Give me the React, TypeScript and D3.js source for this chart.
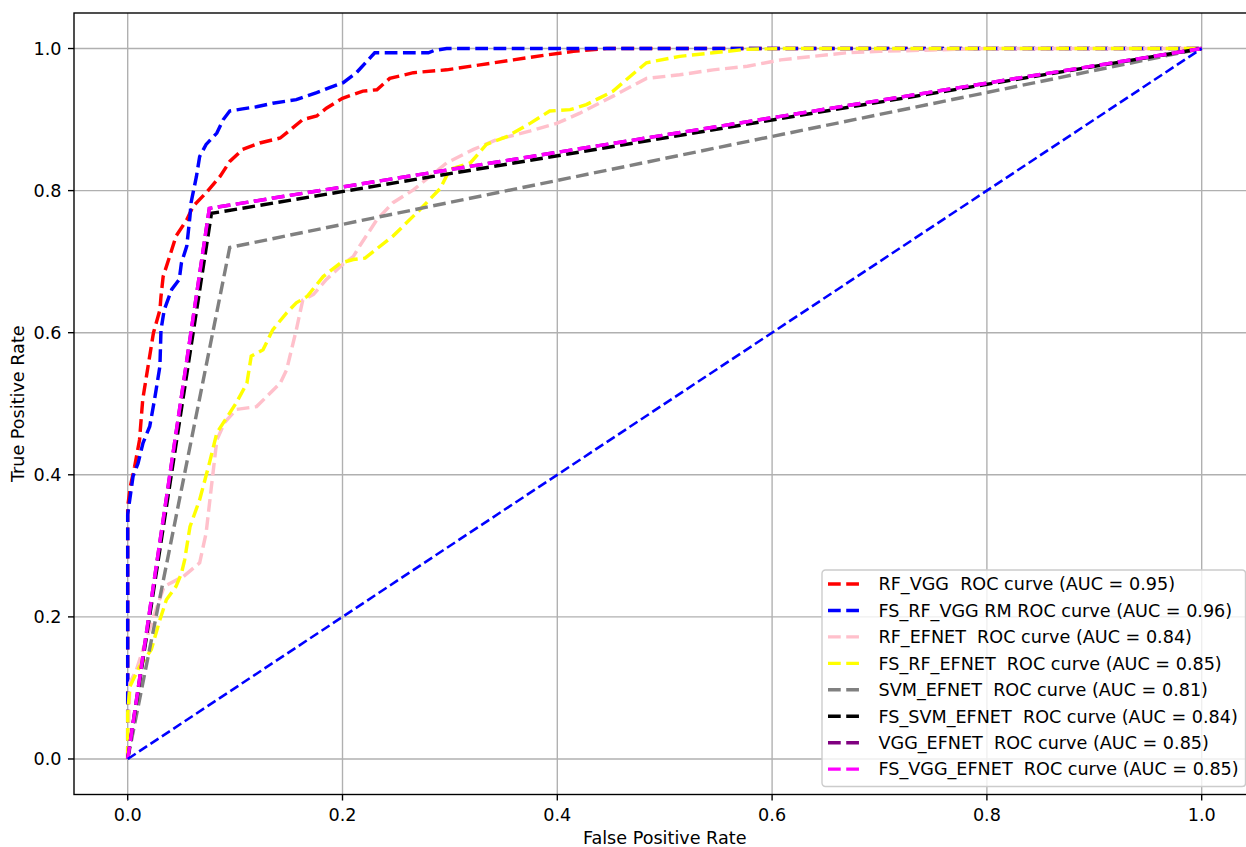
import { useEffect, useRef } from 'react';
import * as d3 from 'd3';

// ROC points
const rfVggFpr = [0, 0, 0.0025, 0.0065, 0.011, 0.014, 0.019, 0.024, 0.03, 0.031, 0.033, 0.039, 0.045, 0.055, 0.061, 0.073, 0.086, 0.095, 0.107, 0.123, 0.142, 0.163, 0.176, 0.185, 0.2, 0.219, 0.232, 0.244, 0.266, 0.297, 0.328, 0.359, 0.39, 0.415, 0.446, 1];
const rfVggTpr = [0, 0.355, 0.384, 0.412, 0.449, 0.506, 0.553, 0.6, 0.632, 0.651, 0.679, 0.707, 0.736, 0.759, 0.778, 0.797, 0.82, 0.841, 0.858, 0.867, 0.874, 0.9, 0.905, 0.916, 0.93, 0.94, 0.942, 0.958, 0.966, 0.97, 0.977, 0.984, 0.991, 0.996, 1, 1];

const fsRfVggFpr = [0, 0, 0.0019, 0.005, 0.0096, 0.0143, 0.0205, 0.025, 0.03, 0.031, 0.034, 0.041, 0.048, 0.05, 0.055, 0.058, 0.059, 0.064, 0.067, 0.073, 0.083, 0.089, 0.095, 0.107, 0.12, 0.135, 0.157, 0.176, 0.188, 0.2007, 0.213, 0.23, 0.28, 0.285, 0.297, 1];
const fsRfVggTpr = [0, 0.344, 0.365, 0.398, 0.416, 0.445, 0.468, 0.506, 0.553, 0.604, 0.632, 0.661, 0.675, 0.698, 0.722, 0.764, 0.783, 0.82, 0.848, 0.865, 0.881, 0.9, 0.912, 0.915, 0.918, 0.923, 0.928, 0.938, 0.945, 0.952, 0.966, 0.994, 0.994, 0.997, 1, 1];

const rfEfnetFpr = [0, 0.002, 0.008, 0.024, 0.034, 0.052, 0.067, 0.073, 0.078, 0.083, 0.09, 0.101, 0.12, 0.142, 0.148, 0.157, 0.163, 0.173, 0.185, 0.2, 0.21, 0.216, 0.232, 0.247, 0.266, 0.297, 0.322, 0.344, 0.375, 0.4, 0.421, 0.452, 0.483, 0.514, 0.545, 0.577, 0.608, 0.638, 0.67, 0.7, 0.75, 0.8, 1];
const rfEfnetTpr = [0, 0.107, 0.125, 0.2, 0.243, 0.257, 0.276, 0.318, 0.384, 0.449, 0.473, 0.492, 0.496, 0.529, 0.548, 0.604, 0.646, 0.654, 0.675, 0.696, 0.707, 0.722, 0.759, 0.783, 0.801, 0.839, 0.858, 0.872, 0.884, 0.895, 0.909, 0.933, 0.958, 0.963, 0.97, 0.975, 0.984, 0.989, 0.994, 0.996, 0.998, 1, 1];

const fsRfEfnetFpr = [0, 0, 0.002, 0.011, 0.022, 0.03, 0.036, 0.045, 0.05, 0.053, 0.058, 0.067, 0.076, 0.083, 0.089, 0.101, 0.111, 0.115, 0.126, 0.135, 0.148, 0.157, 0.167, 0.182, 0.198, 0.21, 0.221, 0.247, 0.272, 0.291, 0.3, 0.319, 0.334, 0.353, 0.375, 0.393, 0.412, 0.427, 0.452, 0.468, 0.483, 0.514, 0.545, 0.577, 0.608, 1];
const fsRfEfnetTpr = [0, 0.065, 0.102, 0.13, 0.154, 0.196, 0.224, 0.243, 0.261, 0.28, 0.327, 0.365, 0.416, 0.459, 0.473, 0.501, 0.529, 0.567, 0.576, 0.604, 0.628, 0.642, 0.651, 0.679, 0.698, 0.703, 0.705, 0.736, 0.773, 0.803, 0.83, 0.839, 0.865, 0.876, 0.895, 0.912, 0.914, 0.921, 0.94, 0.961, 0.98, 0.989, 0.994, 0.999, 1, 1];

const svmEfnetFpr = [0, 0.095, 1];
const svmEfnetTpr = [0, 0.72, 1];

const fsSvmEfnetFpr = [0, 0.078, 1];
const fsSvmEfnetTpr = [0, 0.768, 1];

const vggEfnetFpr = [0, 0.076, 1];
const vggEfnetTpr = [0, 0.775, 1];

const fsVggEfnetFpr = [0, 0.076, 1];
const fsVggEfnetTpr = [0, 0.775, 1];

const chanceFpr = [0, 1];
const chanceTpr = [0, 1];

const labels = [
  'RF_VGG  ROC curve (AUC = 0.95)',
  'FS_RF_VGG RM ROC curve (AUC = 0.96)',
  'RF_EFNET  ROC curve (AUC = 0.84)',
  'FS_RF_EFNET  ROC curve (AUC = 0.85)',
  'SVM_EFNET  ROC curve (AUC = 0.81)',
  'FS_SVM_EFNET  ROC curve (AUC = 0.84)',
  'VGG_EFNET  ROC curve (AUC = 0.85)',
  'FS_VGG_EFNET  ROC curve (AUC = 0.85)',
];
const colors = ['red', 'blue', 'pink', 'yellow', 'gray', 'black', 'purple', 'magenta'];
const xTicks = [0, 0.2, 0.4, 0.6, 0.8, 1.0];
const yTicks = [0, 0.2, 0.4, 0.6, 0.8, 1.0];

export default function App() {
  const ref = useRef<SVGSVGElement | null>(null);

  useEffect(() => {
    document.body.style.margin = '0';
    const el = ref.current;
    if (!el) return;
    const svg = d3.select(el);
    svg.selectAll('*').remove();

    const font = 'DejaVu Sans, sans-serif';
    const fs = 17.6;
    const pt = 1.72;

    const x = d3.scaleLinear().domain([-0.05, 1.05]).range([74, 1255.4]);
    const y = d3.scaleLinear().domain([-0.05, 1.05]).range([794.5, 13]);

    const series = [
      [rfVggFpr, rfVggTpr],
      [fsRfVggFpr, fsRfVggTpr],
      [rfEfnetFpr, rfEfnetTpr],
      [fsRfEfnetFpr, fsRfEfnetTpr],
      [svmEfnetFpr, svmEfnetTpr],
      [fsSvmEfnetFpr, fsSvmEfnetTpr],
      [vggEfnetFpr, vggEfnetTpr],
      [fsVggEfnetFpr, fsVggEfnetTpr],
    ];

    const g = svg.append('g');

    // grid
    g.selectAll('.gx').data(xTicks).enter().append('line')
      .attr('x1', d => x(d)).attr('x2', d => x(d))
      .attr('y1', y(-0.05)).attr('y2', y(1.05))
      .attr('stroke', '#b0b0b0').attr('stroke-width', 0.8 * pt);
    g.selectAll('.gy').data(yTicks).enter().append('line')
      .attr('x1', x(-0.05)).attr('x2', x(1.05))
      .attr('y1', d => y(d)).attr('y2', d => y(d))
      .attr('stroke', '#b0b0b0').attr('stroke-width', 0.8 * pt);

    const line = d3.line<[number, number]>().x(d => x(d[0])).y(d => y(d[1]));
    const dash = `${3.7 * 2 * pt} ${1.6 * 2 * pt}`;

    series.forEach(([fpr, tpr], i) => {
      const pts = fpr.map((v, j) => [v, tpr[j]] as [number, number]);
      g.append('path')
        .attr('d', line(pts))
        .attr('fill', 'none')
        .attr('stroke', colors[i])
        .attr('stroke-width', 2 * pt)
        .attr('stroke-dasharray', dash);
    });

    // chance line
    g.append('path')
      .attr('d', line(chanceFpr.map((v, j) => [v, chanceTpr[j]] as [number, number])))
      .attr('fill', 'none')
      .attr('stroke', 'blue')
      .attr('stroke-width', 1.5 * pt)
      .attr('stroke-dasharray', `${3.7 * 1.5 * pt} ${1.6 * 1.5 * pt}`);

    // spines
    g.append('rect')
      .attr('x', x(-0.05)).attr('y', y(1.05))
      .attr('width', x(1.05) - x(-0.05)).attr('height', y(-0.05) - y(1.05))
      .attr('fill', 'none').attr('stroke', 'black').attr('stroke-width', 0.8 * pt);

    // ticks
    xTicks.forEach(t => {
      g.append('line').attr('x1', x(t)).attr('x2', x(t))
        .attr('y1', y(-0.05)).attr('y2', y(-0.05) + 3.5 * pt)
        .attr('stroke', 'black').attr('stroke-width', 0.8 * pt);
      g.append('text').attr('x', x(t)).attr('y', 820.5)
        .attr('text-anchor', 'middle').attr('font-family', font).attr('font-size', fs)
        .text(d3.format('.1f')(t));
    });
    yTicks.forEach(t => {
      g.append('line').attr('x1', x(-0.05) - 3.5 * pt).attr('x2', x(-0.05))
        .attr('y1', y(t)).attr('y2', y(t))
        .attr('stroke', 'black').attr('stroke-width', 0.8 * pt);
      g.append('text').attr('x', 61.5).attr('y', y(t) + 6.3)
        .attr('text-anchor', 'end').attr('font-family', font).attr('font-size', fs)
        .text(d3.format('.1f')(t));
    });

    g.append('text').attr('x', (x(-0.05) + x(1.05)) / 2).attr('y', 844)
      .attr('text-anchor', 'middle').attr('font-family', font).attr('font-size', fs)
      .text('False Positive Rate');
    g.append('text')
      .attr('transform', `translate(24,${(y(-0.05) + y(1.05)) / 2}) rotate(-90)`)
      .attr('text-anchor', 'middle').attr('font-family', font).attr('font-size', fs)
      .text('True Positive Rate');

    // legend
    const lg = svg.append('g').attr('transform', 'translate(822,570)');
    lg.append('rect').attr('width', 423.5).attr('height', 216.5).attr('rx', 3.4)
      .attr('fill', 'white').attr('fill-opacity', 0.8)
      .attr('stroke', '#cccccc').attr('stroke-width', 0.8 * pt);
    labels.forEach((lab, i) => {
      const cy = 14 + i * 26.45;
      lg.append('line').attr('x1', 6).attr('x2', 40.4).attr('y1', cy).attr('y2', cy)
        .attr('stroke', colors[i]).attr('stroke-width', 2 * pt)
        .attr('stroke-dasharray', dash);
      lg.append('text').attr('x', 56.5).attr('y', cy + 6.3)
        .attr('font-family', font).attr('font-size', fs)
        .style('white-space', 'pre').text(lab);
    });
  }, []);

  return <svg ref={ref} width={1246} height={847} style={{ display: 'block', background: 'white' }} />;
}
